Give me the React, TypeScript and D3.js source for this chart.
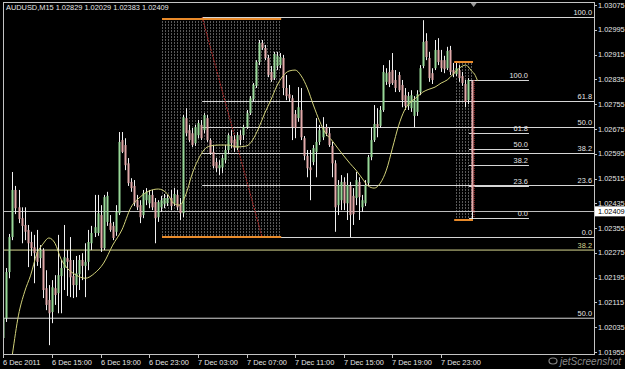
import React, { useEffect } from 'react';
import * as d3 from 'd3';

// ---- DATA ----
// OHLC per 15-minute bar (open, high, low, close)
const bars: [number, number, number, number][] = [
[1.02000,1.02071,1.01977,1.02064],[1.02064,1.02226,1.02052,1.02213],[1.02213,1.02336,1.02193,1.02326],[1.02326,1.02536,1.02316,1.02478],
[1.02478,1.02491,1.02400,1.02419],[1.02422,1.02478,1.02371,1.02384],[1.02387,1.02422,1.02306,1.02362],[1.02365,1.02422,1.02316,1.02343],
[1.02349,1.02365,1.02229,1.02306],[1.02310,1.02343,1.02265,1.02290],[1.02293,1.02333,1.02177,1.02274],[1.02278,1.02349,1.02233,1.02246],
[1.02258,1.02300,1.02226,1.02284],[1.02284,1.02290,1.02129,1.02155],[1.02161,1.02219,1.02090,1.02107],[1.02123,1.02171,1.01977,1.02080],
[1.02084,1.02187,1.02048,1.02164],[1.02161,1.02203,1.02107,1.02139],[1.02145,1.02333,1.02080,1.02203],[1.02200,1.02252,1.02080,1.02226],
[1.02226,1.02365,1.02155,1.02261],[1.02258,1.02284,1.02136,1.02246],[1.02252,1.02326,1.02132,1.02196],[1.02200,1.02252,1.02129,1.02171],
[1.02171,1.02265,1.02132,1.02209],[1.02206,1.02268,1.02155,1.02252],[1.02252,1.02274,1.02187,1.02233],[1.02233,1.02306,1.02132,1.02246],
[1.02246,1.02349,1.02219,1.02310],[1.02306,1.02362,1.02284,1.02339],[1.02339,1.02462,1.02326,1.02358],[1.02339,1.02462,1.02330,1.02403],
[1.02397,1.02429,1.02278,1.02290],[1.02290,1.02462,1.02284,1.02455],[1.02375,1.02472,1.02362,1.02459],[1.02371,1.02397,1.02343,1.02349],
[1.02362,1.02375,1.02316,1.02323],[1.02343,1.02429,1.02330,1.02407],[1.02403,1.02665,1.02397,1.02633],[1.02639,1.02665,1.02597,1.02601],
[1.02623,1.02645,1.02542,1.02558],[1.02564,1.02581,1.02491,1.02500],[1.02504,1.02516,1.02472,1.02484],[1.02491,1.02510,1.02426,1.02435],
[1.02445,1.02462,1.02413,1.02422],[1.02429,1.02445,1.02371,1.02390],[1.02397,1.02478,1.02387,1.02468],[1.02445,1.02484,1.02429,1.02472],
[1.02435,1.02478,1.02419,1.02462],[1.02462,1.02478,1.02413,1.02422],[1.02439,1.02452,1.02306,1.02387],[1.02390,1.02445,1.02375,1.02439],
[1.02422,1.02459,1.02407,1.02445],[1.02432,1.02465,1.02419,1.02452],[1.02435,1.02462,1.02426,1.02452],[1.02452,1.02478,1.02413,1.02426],
[1.02435,1.02484,1.02426,1.02465],[1.02462,1.02478,1.02413,1.02422],[1.02432,1.02452,1.02381,1.02403],[1.02403,1.02720,1.02390,1.02713],
[1.02710,1.02742,1.02652,1.02661],[1.02671,1.02688,1.02633,1.02639],[1.02661,1.02678,1.02617,1.02623],[1.02629,1.02688,1.02620,1.02681],
[1.02655,1.02704,1.02645,1.02694],[1.02688,1.02704,1.02639,1.02645],[1.02671,1.02726,1.02661,1.02720],[1.02710,1.02720,1.02633,1.02639],
[1.02639,1.02645,1.02591,1.02597],[1.02601,1.02623,1.02548,1.02555],[1.02568,1.02581,1.02536,1.02548],[1.02548,1.02574,1.02526,1.02558],
[1.02551,1.02591,1.02532,1.02581],[1.02574,1.02623,1.02564,1.02607],[1.02607,1.02661,1.02597,1.02655],[1.02652,1.02671,1.02613,1.02629],
[1.02639,1.02655,1.02601,1.02613],[1.02613,1.02665,1.02607,1.02655],[1.02655,1.02671,1.02623,1.02639],[1.02655,1.02688,1.02639,1.02681],
[1.02681,1.02736,1.02675,1.02726],[1.02726,1.02781,1.02720,1.02774],[1.02771,1.02823,1.02765,1.02817],[1.02814,1.02897,1.02807,1.02891],
[1.02891,1.02962,1.02881,1.02952],[1.02952,1.02962,1.02930,1.02936],[1.02936,1.02946,1.02897,1.02904],[1.02904,1.02914,1.02842,1.02849],
[1.02859,1.02878,1.02827,1.02833],[1.02839,1.02924,1.02833,1.02917],[1.02878,1.02924,1.02865,1.02911],[1.02881,1.02920,1.02871,1.02907],
[1.02904,1.02914,1.02784,1.02807],[1.02807,1.02849,1.02768,1.02781],[1.02787,1.02817,1.02762,1.02774],[1.02774,1.02784,1.02639,1.02681],
[1.02723,1.02736,1.02645,1.02678],[1.02710,1.02810,1.02698,1.02745],[1.02736,1.02807,1.02639,1.02648],[1.02645,1.02652,1.02574,1.02588],
[1.02588,1.02607,1.02519,1.02548],[1.02551,1.02607,1.02445,1.02542],[1.02568,1.02623,1.02558,1.02613],[1.02601,1.02710,1.02519,1.02633],
[1.02633,1.02688,1.02623,1.02671],[1.02648,1.02713,1.02639,1.02678],[1.02681,1.02691,1.02652,1.02661],[1.02661,1.02678,1.02617,1.02623],
[1.02620,1.02633,1.02519,1.02564],[1.02564,1.02574,1.02343,1.02422],[1.02429,1.02510,1.02397,1.02494],[1.02445,1.02526,1.02413,1.02504],
[1.02504,1.02519,1.02413,1.02435],[1.02435,1.02532,1.02381,1.02494],[1.02491,1.02504,1.02326,1.02397],[1.02459,1.02484,1.02365,1.02400],
[1.02452,1.02536,1.02429,1.02510],[1.02504,1.02519,1.02381,1.02455],[1.02422,1.02462,1.02407,1.02445],[1.02435,1.02510,1.02426,1.02494],
[1.02500,1.02591,1.02491,1.02584],[1.02584,1.02681,1.02574,1.02639],[1.02639,1.02752,1.02633,1.02691],[1.02691,1.02742,1.02648,1.02681],
[1.02685,1.02749,1.02678,1.02736],[1.02736,1.02881,1.02730,1.02859],[1.02827,1.02871,1.02817,1.02855],[1.02859,1.02897,1.02810,1.02820],
[1.02865,1.02920,1.02817,1.02823],[1.02833,1.02865,1.02794,1.02807],[1.02849,1.02859,1.02794,1.02800],[1.02817,1.02833,1.02745,1.02768],
[1.02784,1.02807,1.02736,1.02749],[1.02749,1.02794,1.02736,1.02781],[1.02742,1.02800,1.02730,1.02784],[1.02717,1.02781,1.02681,1.02768],
[1.02730,1.02800,1.02717,1.02787],[1.02794,1.02881,1.02784,1.02871],[1.02878,1.03026,1.02871,1.02956],[1.02959,1.02984,1.02897,1.02907],
[1.02904,1.02924,1.02827,1.02839],[1.02855,1.02871,1.02820,1.02833],[1.02871,1.02962,1.02865,1.02930],[1.02930,1.02968,1.02881,1.02891],
[1.02897,1.02930,1.02859,1.02871],[1.02897,1.02911,1.02855,1.02868],[1.02871,1.02940,1.02865,1.02927],[1.02930,1.02943,1.02849,1.02859],
[1.02865,1.02888,1.02842,1.02852],[1.02852,1.02888,1.02846,1.02871],[1.02865,1.02881,1.02827,1.02839],[1.02846,1.02859,1.02814,1.02823],
[1.02820,1.02833,1.02745,1.02762],[1.02768,1.02839,1.02755,1.02833],[1.02829,1.02829,1.02383,1.02409],
];

// Moving average (bar index, price)
const maIdx = [2,3,5,7,9,11,13,15,17,19,21,24,27,30,33,36,39,42,45,48,51,54,56,58,60,62,64,66,68,71,74,77,80,82,84,86,88,90,92,94,96,98,100,102,104,106,108,110,112,114,116,118,120,122,124,126,128,130,132,134,136,138,140,142,144,146,148,150,152,153,154,155,156];
const maVal = [1.01880,1.01948,1.02074,1.02149,1.02203,1.02271,1.02303,1.02323,1.02306,1.02255,1.02226,1.02203,1.02193,1.02209,1.02242,1.02300,1.02349,1.02422,1.02455,1.02475,1.02481,1.02465,1.02435,1.02429,1.02462,1.02526,1.02574,1.02607,1.02620,1.02623,1.02623,1.02617,1.02620,1.02639,1.02678,1.02726,1.02768,1.02814,1.02846,1.02862,1.02865,1.02846,1.02807,1.02752,1.02701,1.02661,1.02639,1.02613,1.02588,1.02564,1.02542,1.02516,1.02491,1.02484,1.02500,1.02542,1.02613,1.02685,1.02736,1.02762,1.02777,1.02794,1.02803,1.02810,1.02823,1.02833,1.02852,1.02871,1.02881,1.02875,1.02862,1.02852,1.02830];

const yTickLabels = ["1.03075","1.02995","1.02915","1.02835","1.02755","1.02675","1.02595","1.02515","1.02435","1.02355","1.02275","1.02195","1.02115","1.02035","1.01955"];
const xTickIdx = [0,16,32,48,64,80,96,112,128,144];
const xTickLabels = ["6 Dec 2011","6 Dec 15:00","6 Dec 19:00","6 Dec 23:00","7 Dec 03:00","7 Dec 07:00","7 Dec 11:00","7 Dec 15:00","7 Dec 19:00","7 Dec 23:00"];

const fibRatios = [1, 0.618, 0.5, 0.382, 0.236, 0];
const fibLabels = ["100.0","61.8","50.0","38.2","23.6","0.0"];
const bigFibIdx = [65.4, 85.1];
const bigFibPrices = [1.03036, 1.02326];
const smallFibIdx = [153.2, 172.9, 154.5];
const smallFibPrices = [1.02833, 1.02387];
const bigBox = [52.2, 91.4, 1.03030, 1.02326];
const smallBox = [148.3, 154.5, 1.02891, 1.02381];
const extraLevels = [1.02284, 1.02064];
const extraLabels = ["38.2", "50.0"];
const bidPrice = 1.02409;
const title = "AUDUSD,M15  1.02829 1.02029 1.02383 1.02409";

export default function App() {
  useEffect(() => {
    document.body.style.margin = '0';
    document.body.style.background = '#000';
  }, []);

  const L = 3, R = 594, T = 2, B = 354;
  const x = d3.scaleLinear().domain([0, 154]).range([3.3, 471.5]);
  const y = d3.scaleLinear().domain([1.01955, 1.03075]).range([352, 5]);
  const font = "'Liberation Sans', Arial, sans-serif";
  const fs = 7.4;
  const txt = '#e6e6e6';
  const lvl = '#d6d6d6';

  const maLine = d3.line<number>()
    .x((_, i) => x(maIdx[i]))
    .y(d => y(d))
    .curve(d3.curveMonotoneX)(maVal) || '';

  const bigLevels = fibRatios.map(r => bigFibPrices[1] + r * (bigFibPrices[0] - bigFibPrices[1]));
  const smallLevels = fibRatios.map(r => smallFibPrices[1] + r * (smallFibPrices[0] - smallFibPrices[1]));

  return (
    <svg width={625} height={369} style={{ position: 'absolute', left: 0, top: 0, background: '#000' }}>
      <defs>
        <pattern id="dots" width={3} height={3} patternUnits="userSpaceOnUse">
          <rect x={0} y={0} width={1} height={2} fill="#585858" />
        </pattern>
        <clipPath id="plot"><rect x={L} y={T} width={R - L} height={B - T} /></clipPath>
      </defs>
      <rect x={0} y={0} width={625} height={369} fill="#000" />

      {/* dotted boxes */}
      <rect x={x(bigBox[0])} y={y(bigBox[2])} width={x(bigBox[1]) - x(bigBox[0])} height={y(bigBox[3]) - y(bigBox[2])} fill="url(#dots)" />
      <rect x={x(smallBox[0])} y={y(smallBox[2])} width={x(smallBox[1]) - x(smallBox[0])} height={y(smallBox[3]) - y(smallBox[2])} fill="url(#dots)" />

      <g clipPath="url(#plot)">
        {/* full-width levels */}
        <line x1={L} x2={R} y1={y(extraLevels[0])} y2={y(extraLevels[0])} stroke="#d8d890" strokeWidth={1} />
        <line x1={L} x2={R} y1={y(extraLevels[1])} y2={y(extraLevels[1])} stroke={lvl} strokeWidth={1} />
        <line x1={L} x2={R} y1={Math.round(y(bidPrice)) + 0.5} y2={Math.round(y(bidPrice)) + 0.5} stroke="#bdbdbd" strokeWidth={1} />

        {/* big fib */}
        {bigLevels.map((p, i) => (
          <line key={'bf' + i} x1={x(bigFibIdx[0])} x2={R} y1={Math.round(y(p)) + 0.5} y2={Math.round(y(p)) + 0.5} stroke={lvl} strokeWidth={1} />
        ))}
        <line x1={x(bigFibIdx[0])} y1={y(bigFibPrices[0])} x2={x(bigFibIdx[1])} y2={y(bigFibPrices[1])} stroke="#b02c2c" strokeWidth={1.1} strokeDasharray="2,1" />

        {/* small fib */}
        {smallLevels.map((p, i) => (
          <line key={'sf' + i} x1={x(smallFibIdx[0])} x2={x(smallFibIdx[1])} y1={Math.round(y(p)) + 0.5} y2={Math.round(y(p)) + 0.5} stroke={lvl} strokeWidth={1} />
        ))}

        {/* candles */}
        {bars.map((b, i) => {
          const [o, h, l, c] = b;
          const cx = Math.round(x(i)) + 0.5;
          const top = y(Math.max(o, c));
          const bot = y(Math.min(o, c));
          const up = c >= o;
          return (
            <g key={'c' + i}>
              <line x1={cx} x2={cx} y1={y(h)} y2={y(l)} stroke="#f0f0f0" strokeWidth={1} />
              <rect x={cx - 1} y={top} width={2} height={Math.max(1, bot - top)} fill={up ? '#98d898' : '#e2aaaa'} />
            </g>
          );
        })}

        {/* moving average */}
        <path d={maLine} fill="none" stroke="#d2d27a" strokeWidth={1} />

        {/* small fib trend line */}
        <line x1={x(smallFibIdx[2]) + 1} x2={x(smallFibIdx[2]) + 1} y1={y(smallFibPrices[0])} y2={y(smallFibPrices[1])} stroke="#d04040" strokeWidth={1} strokeDasharray="1,1" />

        {/* orange box edges */}
        <line x1={x(bigBox[0])} x2={x(bigBox[1])} y1={y(bigBox[2])} y2={y(bigBox[2])} stroke="#e88a2a" strokeWidth={2} />
        <line x1={x(bigBox[0])} x2={x(bigBox[1])} y1={y(bigBox[3])} y2={y(bigBox[3])} stroke="#e88a2a" strokeWidth={2} />
        <line x1={x(smallBox[0])} x2={x(smallBox[1])} y1={y(smallBox[2])} y2={y(smallBox[2])} stroke="#e88a2a" strokeWidth={2} />
        <line x1={x(smallBox[0])} x2={x(smallBox[1])} y1={y(smallBox[3])} y2={y(smallBox[3])} stroke="#e88a2a" strokeWidth={2} />
      </g>

      {/* fib labels */}
      {bigLevels.map((p, i) => (
        <text key={'bl' + i} x={R - 2} y={y(p) - 2} textAnchor="end" fontFamily={font} fontSize={fs} fill={txt}>{fibLabels[i]}</text>
      ))}
      {smallLevels.map((p, i) => (
        <text key={'sl' + i} x={x(smallFibIdx[1]) - 1} y={y(p) - 2} textAnchor="end" fontFamily={font} fontSize={fs} fill={txt}>{fibLabels[i]}</text>
      ))}
      <text x={R - 2} y={y(extraLevels[0]) - 2} textAnchor="end" fontFamily={font} fontSize={fs} fill="#d8d890">{extraLabels[0]}</text>
      <text x={R - 2} y={y(extraLevels[1]) - 2} textAnchor="end" fontFamily={font} fontSize={fs} fill={txt}>{extraLabels[1]}</text>

      {/* frame */}
      <rect x={L + 0.5} y={T + 0.5} width={R - L} height={B - T} fill="none" stroke="#c4c4c4" strokeWidth={1} />
      <path d={`M${x(154.7) - 3},${T + 1} L${x(154.7) + 3},${T + 1} L${x(154.7)},${T + 5} Z`} fill="#9a9a9a" />

      {/* title */}
      <text x={6} y={10} fontFamily={font} fontSize={fs} fill={txt}>{title}</text>

      {/* y axis */}
      {yTickLabels.map((t, i) => {
        const yy = y(+t);
        return (
          <g key={'yt' + i}>
            <line x1={R} x2={R + 3} y1={Math.round(yy) + 0.5} y2={Math.round(yy) + 0.5} stroke="#c4c4c4" />
            <text x={598} y={yy + 2.6} fontFamily={font} fontSize={fs} fill={txt}>{t}</text>
          </g>
        );
      })}
      <rect x={595} y={y(bidPrice) - 5} width={30} height={10} fill="#ffffff" />
      <text x={598} y={y(bidPrice) + 2.6} fontFamily={font} fontSize={fs} fill="#000">{bidPrice.toFixed(5)}</text>

      {/* x axis */}
      {xTickIdx.map((ix, i) => {
        const xx = Math.round(x(ix)) + 0.5;
        return (
          <g key={'xt' + i}>
            <line x1={xx} x2={xx} y1={B} y2={B + 4} stroke="#c4c4c4" />
            <text x={xx - 0.5} y={365} fontFamily={font} fontSize={fs} fill={txt}>{xTickLabels[i]}</text>
          </g>
        );
      })}

      {/* watermark */}
      <g opacity={0.75}>
        <ellipse cx={553} cy={361} rx={4} ry={3} fill="none" stroke="#b0b0b0" strokeWidth={1.2} />
        <text x={560} y={365} fontFamily={font} fontSize={10} fontStyle="italic" fill="#b8b8b8">jetScreenshot</text>
      </g>
    </svg>
  );
}
